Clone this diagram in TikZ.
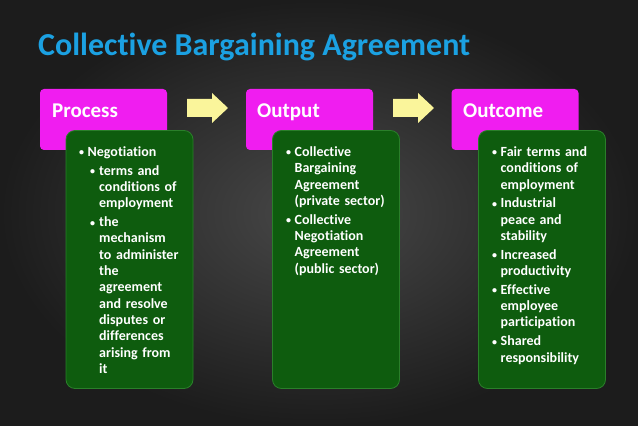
\documentclass[tikz,border=0pt]{standalone}
\usepackage{fontspec}
\setmainfont{Carlito}[Ligatures=NoCommon]
\usepackage{tikz}
\usetikzlibrary{calc}
\usepackage{xcolor}
\definecolor{BgIn} {HTML}{484848}
\definecolor{BgOut}{HTML}{1C1C1C}
\definecolor{TtlC} {HTML}{1BA1E2}
\definecolor{HdrF} {HTML}{F01DF0}
\definecolor{BdyF} {HTML}{0E5C0E}
\definecolor{BdyD} {HTML}{2A7F2A}
\definecolor{ArrF} {HTML}{FAF59B}
\newcommand{\Bul}{\raisebox{0.6pt}{\fontsize{10}{10}\selectfont\textbullet}}
\newcommand{\ItA}[1]{\par\hangindent=8.5pt\hangafter=1\noindent\makebox[8.5pt][l]{\Bul}#1\par}
\newcommand{\ItB}[1]{\par\hangindent=20pt\hangafter=1\noindent\hspace*{11pt}\makebox[9pt][l]{\Bul}#1\par}
\tikzset{
  TTL/.style={
    anchor=base west, inner sep=0pt, text=TtlC,
    font=\fontsize{32}{38}\selectfont\bfseries
  },
  HDR/.style={
    rectangle, rounded corners=4pt, fill=HdrF,
    minimum width=127pt, minimum height=61pt, inner sep=0pt
  },
  LBL/.style={
    anchor=base west, inner sep=0pt, text=white,
    font=\fontsize{21}{25}\selectfont\bfseries
  },
  BDY/.style={
    rectangle, rounded corners=9pt, fill=BdyF, draw=BdyD,
    line width=0.8pt, minimum width=127pt, minimum height=258pt,
    inner sep=0pt
  },
  TXT/.style={
    anchor=north west, inner sep=0pt, text=white,
    text width=120pt, align=left,
    font=\fontsize{14}{16.3}\selectfont\bfseries\setlength{\parskip}{2.5pt}
  },
  BARR/.pic={
    \fill[ArrF] (0,9)--(25,9)--(25,15)--(41,0)--(25,-15)--(25,-9)--(0,-9)--cycle;
  },
}

\begin{document}
\begin{tikzpicture}[x=1pt,y=1pt]

%================ BACKGROUND =================
\useasboundingbox (0,0) rectangle (638,426);
\shade[inner color=BgIn,outer color=BgOut] (0,0) rectangle (638,426);

%================ TITLE =================
\node[TTL] (ttl) at (38,370) {Collective Bargaining Agreement};

%================ HEADERS =================
\node[HDR] (proc) at (103.5,306.5) {};
\node[HDR] (outp) at (309.5,306.5) {};
\node[HDR] (outc) at (515,306.5) {};

\node[LBL] (procL) at (52,308)  {Process};
\node[LBL] (outpL) at (257,308) {Output};
\node[LBL] (outcL) at (463,308) {Outcome};

%================ ARROWS =================
\pic (ar1) at (187,318) {BARR};
\pic (ar2) at (393,318) {BARR};

%================ BODIES =================
\node[BDY] (bx1) at (129.5,166.5) {};
\node[BDY] (bx2) at (336,166.5) {};
\node[BDY] (bx3) at (542,166.5) {};

\node[TXT] (tx1) at (79,288.5) {%
\ItA{Negotiation}
\ItB{terms and\newline conditions of\newline employment}
\ItB{the\newline mechanism\newline to administer\newline the\newline agreement\newline and resolve\newline disputes or\newline differences\newline arising from\newline it}};

\node[TXT] (tx2) at (286,288.5) {%
\ItA{Collective\newline Bargaining\newline Agreement\newline (private sector)}
\ItA{Collective\newline Negotiation\newline Agreement\newline (public sector)}};

\node[TXT] (tx3) at (492,288.5) {%
\ItA{Fair terms and\newline conditions of\newline employment}
\ItA{Industrial\newline peace and\newline stability}
\ItA{Increased\newline productivity}
\ItA{Effective\newline employee\newline participation}
\ItA{Shared\newline responsibility}};

\end{tikzpicture}
\end{document}
